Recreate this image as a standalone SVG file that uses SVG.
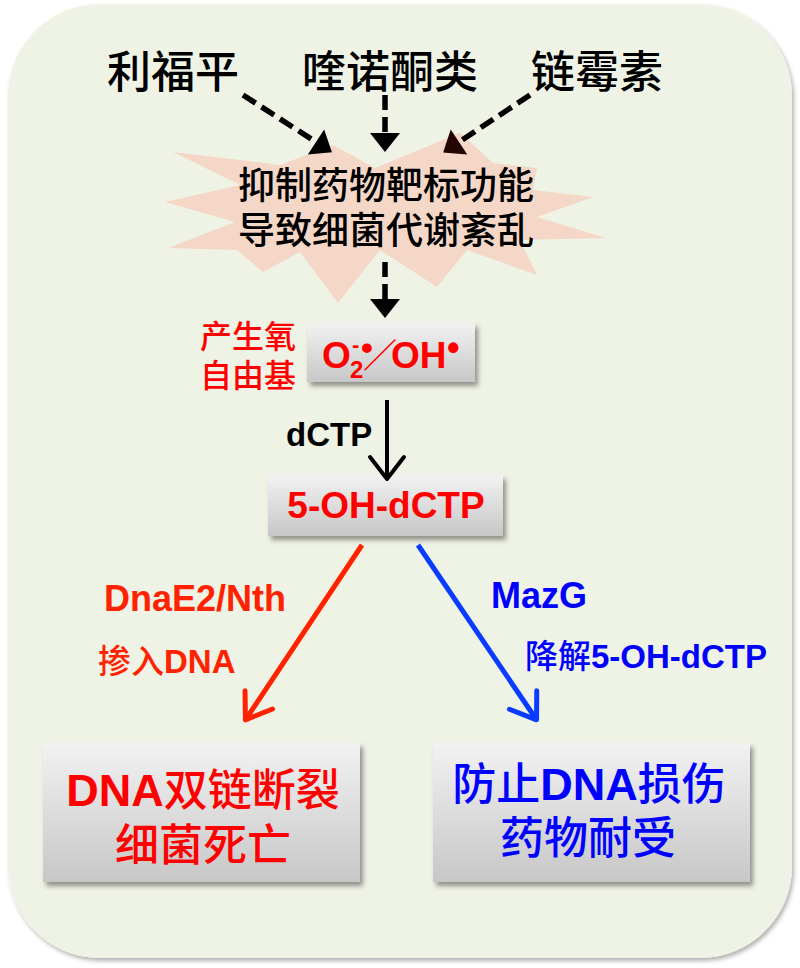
<svg xmlns="http://www.w3.org/2000/svg" width="800" height="968" viewBox="0 0 800 968">
<style>
.cjk{font-family:"Noto Sans CJK SC","Noto Sans CJK JP",sans-serif;font-weight:500;}
.lat{font-family:"Liberation Sans",Arial,sans-serif;font-weight:bold;}
.box{fill:url(#gbox);filter:url(#sh);}
.dash{fill:none;stroke:#000;stroke-width:5.5;stroke-dasharray:15 7;}
</style>
<defs>
<linearGradient id="gbox" x1="0" y1="0" x2="0" y2="1">
<stop offset="0" stop-color="#f2f2f2"/>
<stop offset="1" stop-color="#c7c7c7"/>
</linearGradient>
<filter id="sh" x="-10%" y="-10%" width="125%" height="130%">
<feDropShadow dx="3" dy="4" stdDeviation="2.5" flood-color="#000" flood-opacity="0.4"/>
</filter>
<filter id="shbg" x="-5%" y="-5%" width="110%" height="110%">
<feDropShadow dx="2" dy="3" stdDeviation="2" flood-color="#000" flood-opacity="0.3"/>
</filter>
<marker id="tri" markerUnits="userSpaceOnUse" viewBox="-1 -16 21 32" refX="0" refY="0" markerWidth="21" markerHeight="32" orient="auto" overflow="visible">
<path d="M0,-15 L19,0 L0,15 Z" fill="#000"/>
</marker>
<marker id="tri2" markerUnits="userSpaceOnUse" viewBox="-1 -16 21 32" refX="0" refY="0" markerWidth="21" markerHeight="32" orient="auto" overflow="visible">
<path d="M0,-15 L19,0 L0,15 Z" fill="#220400"/>
</marker>
<marker id="vk" markerUnits="userSpaceOnUse" viewBox="-30 -22 36 44" refX="0" refY="0" markerWidth="36" markerHeight="44" orient="auto" overflow="visible">
<path d="M-21,-17 L1,0 L-21,17" fill="none" stroke="#000" stroke-width="4" stroke-linecap="round" stroke-linejoin="round"/>
</marker>
<marker id="vr" markerUnits="userSpaceOnUse" viewBox="-30 -22 36 44" refX="0" refY="0" markerWidth="36" markerHeight="44" orient="auto" overflow="visible">
<path d="M-23,-16.5 L1,0 L-23,16.5" fill="none" stroke="#ff2200" stroke-width="5" stroke-linecap="round" stroke-linejoin="round"/>
</marker>
<marker id="vb" markerUnits="userSpaceOnUse" viewBox="-30 -22 36 44" refX="0" refY="0" markerWidth="36" markerHeight="44" orient="auto" overflow="visible">
<path d="M-23,-16.5 L1,0 L-23,16.5" fill="none" stroke="#0a3cff" stroke-width="5" stroke-linecap="round" stroke-linejoin="round"/>
</marker>
</defs>

<rect x="0" y="0" width="800" height="968" fill="#fff"/>
<g id="background">
<rect x="8" y="4" width="784" height="954" rx="92" ry="92" fill="#eff3e5" filter="url(#shbg)"/>
</g>

<g id="drug-rifampicin"><text class="cjk" x="173" y="88" font-size="44" text-anchor="middle" fill="#000">利福平</text></g>
<g id="drug-quinolone"><text class="cjk" x="390" y="88" font-size="44" text-anchor="middle" fill="#000">喹诺酮类</text></g>
<g id="drug-streptomycin"><text class="cjk" x="597" y="88" font-size="44" text-anchor="middle" fill="#000">链霉素</text></g>

<g id="burst">
<polygon fill="#f4d7c7" points="460,133 493,163 537,168 533,190 593,197 537,217 606,238 520,240 537,275 467,250 437,287 380,250 338,303 300,252 263,272 237,250 168,248 235,222 165,202 240,185 173,152 280,165 333,145 375,168"/>
<text class="cjk" x="386" y="199" font-size="37" text-anchor="middle" fill="#000">抑制药物靶标功能</text>
<text class="cjk" x="386" y="244" font-size="37" text-anchor="middle" fill="#000">导致细菌代谢紊乱</text>
</g>

<g id="ros-label">
<text class="cjk" x="248" y="348" font-size="32" text-anchor="middle" fill="#ff0000">产生氧</text>
<text class="cjk" x="248" y="387" font-size="32" text-anchor="middle" fill="#ff0000">自由基</text>
</g>

<g id="ros">
<rect class="box" x="307" y="323" width="168" height="59"/>
<text fill="#ff0000"><tspan class="lat" x="322" y="368" font-size="37">O</tspan><tspan class="lat" x="350" y="378" font-size="24">2</tspan><tspan class="lat" x="352" y="352" font-size="22">-</tspan><tspan class="lat" x="361" y="359" font-size="34">•</tspan><tspan class="cjk" x="380" y="368" font-size="34" text-anchor="middle" font-weight="normal">／</tspan><tspan class="lat" x="391" y="368" font-size="37">OH</tspan><tspan class="lat" x="447" y="360" font-size="36">•</tspan></text>
</g>

<g id="dctp-label"><text class="lat" x="286" y="446" font-size="33" fill="#000">dCTP</text></g>

<g id="oh-dctp">
<rect class="box" x="268" y="475" width="235" height="61"/>
<text class="lat" x="386" y="518" font-size="37" text-anchor="middle" fill="#ff0000">5-OH-dCTP</text>
</g>

<g id="dnae2-label">
<text class="lat" x="104" y="611" font-size="36" fill="#ff2200">DnaE2/Nth</text>
<text x="98" y="673" font-size="33" fill="#ff2200"><tspan class="cjk" font-weight="bold">掺入</tspan><tspan class="lat">DNA</tspan></text>
</g>

<g id="mazg-label">
<text class="lat" x="491" y="608" font-size="36" fill="#0000ff">MazG</text>
<text x="525" y="668" font-size="33" fill="#0000ff"><tspan class="cjk">降解</tspan><tspan class="lat">5-OH-dCTP</tspan></text>
</g>

<g id="death">
<rect class="box" x="43" y="743" width="317" height="139"/>
<text x="203" y="806" text-anchor="middle" fill="#ff0000"><tspan class="lat" font-size="45">DNA</tspan><tspan class="cjk" font-size="44">双链断裂</tspan></text>
<text class="cjk" x="203" y="861" font-size="44" text-anchor="middle" fill="#ff0000">细菌死亡</text>
</g>

<g id="tolerance">
<rect class="box" x="433" y="743" width="317" height="139"/>
<text x="589" y="800" text-anchor="middle" fill="#0000ff"><tspan class="cjk" font-size="44">防止</tspan><tspan class="lat" font-size="45">DNA</tspan><tspan class="cjk" font-size="44">损伤</tspan></text>
<text class="cjk" x="588" y="854" font-size="44" text-anchor="middle" fill="#0000ff">药物耐受</text>
</g>

<g id="connectors">
<path class="dash" d="M243,95 L316,142" marker-end="url(#tri)"/>
<path class="dash" d="M385,95 L385,133" marker-end="url(#tri)"/>
<path class="dash" d="M530,95 L459,142" marker-end="url(#tri2)"/>
<path class="dash" d="M385,262 L385,299" marker-end="url(#tri)"/>
<path d="M387,400 L387,478" fill="none" stroke="#000" stroke-width="4" marker-end="url(#vk)"/>
<path d="M362,545 L246,719" fill="none" stroke="#ff2200" stroke-width="5" marker-end="url(#vr)"/>
<path d="M418,545 L536,719" fill="none" stroke="#0a3cff" stroke-width="5" marker-end="url(#vb)"/>
</g>
</svg>
